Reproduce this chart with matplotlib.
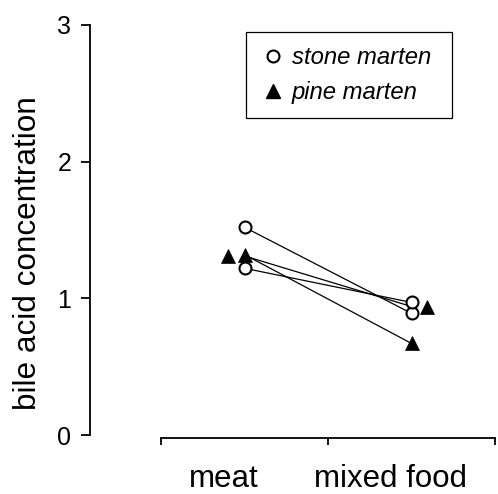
import matplotlib
matplotlib.use("Agg")
import matplotlib.pyplot as plt
from matplotlib.lines import Line2D
import matplotlib.transforms as mtransforms

plt.rcParams['font.family'] = ['Liberation Sans', 'DejaVu Sans']

categories = ["meat", "mixed food"]
stone_meat = [1.52, 1.22]
stone_mixed = [0.89, 0.97]
pine_meat = [1.32, 1.31]
pine_mixed = [0.67, 0.94]
ytick_values = [0, 1, 2, 3]
ylabel = "bile acid concentration"
legend_labels = ["stone marten", "pine marten"]

# marker x-offsets (to separate overlapping symbols), style only
pine_meat_off = [0.0, -0.096]
pine_mixed_off = [0.0, 0.09]

W, H = 498, 494
fig = plt.figure(figsize=(W / 100, H / 100), dpi=100)
ax_left, ax_right, ax_top, ax_bot = 90, 496, 25, 440
ax = fig.add_axes([ax_left / W, 1 - ax_bot / H, (ax_right - ax_left) / W, (ax_bot - ax_top) / H])

xpos = [0, 1]
x_lo = (ax_left - 161) / 167 - 0.5
x_hi = (ax_right - 161) / 167 - 0.5
ax.set_xlim(x_lo, x_hi)
y_lo = (435 - ax_bot) / 136.7
ax.set_ylim(y_lo, 3.0)

lw = 0.9
for a, b in zip(stone_meat, stone_mixed):
    ax.plot(xpos, [a, b], color='black', lw=lw, zorder=2, clip_on=False)
for a, b in zip(pine_meat, pine_mixed):
    ax.plot(xpos, [a, b], color='black', lw=lw, zorder=2, clip_on=False)

ms_c = 8.6
ms_t = 10
for a, b in zip(stone_meat, stone_mixed):
    ax.plot(xpos, [a, b], ls='none', marker='o', ms=ms_c, mfc='white', mec='black',
            mew=1.5, zorder=4, clip_on=False)
for a, b, oa, ob in zip(pine_meat, pine_mixed, pine_meat_off, pine_mixed_off):
    ax.plot([xpos[0] + oa, xpos[1] + ob], [a, b], ls='none', marker='^', ms=ms_t,
            mfc='black', mec='black', mew=0.5, zorder=3, clip_on=False)

for s in ['top', 'right']:
    ax.spines[s].set_visible(False)
ax.spines['left'].set_position(('data', x_lo))
ax.spines['left'].set_bounds(0, 3)
ax.spines['bottom'].set_position(('data', -0.02))
ax.spines['bottom'].set_bounds(-0.5, 1.5)
ax.spines['left'].set_linewidth(1.3)
ax.spines['bottom'].set_linewidth(1.3)

ax.set_yticks(ytick_values)
ax.set_yticklabels([str(v) for v in ytick_values], fontsize=18)
ax.tick_params(axis='y', direction='out', length=6.5, width=1.3, pad=7)

ax.set_xticks([-0.5, 0.5, 1.5])
ax.set_xticklabels(['', '', ''])
ax.tick_params(axis='x', which='major', direction='out', length=5, width=1.3)
ax.set_xticks(xpos, minor=True)
ax.set_xticklabels(categories, minor=True, fontsize=22.5)
ax.tick_params(axis='x', which='minor', length=0, pad=19)
shift = mtransforms.ScaledTranslation(-0.21, 0, fig.dpi_scale_trans)
for lab in ax.get_xticklabels(minor=True):
    lab.set_transform(lab.get_transform() + shift)

fig.text(28 / W, 1 - 253.5 / H, ylabel, rotation=90, ha='center', va='center', fontsize=22.7)

handles = [Line2D([], [], ls='none', marker='o', ms=ms_c, mfc='white', mec='black', mew=1.5),
           Line2D([], [], ls='none', marker='^', ms=ms_t, mfc='black', mec='black')]
leg = fig.legend(handles, legend_labels, loc='upper left', mode='expand',
                 bbox_to_anchor=(246 / W, 1 - 118 / H, 206 / W, 86 / H),
                 bbox_transform=fig.transFigure,
                 prop={'style': 'italic', 'size': 17.2}, frameon=True, fancybox=False,
                 edgecolor='black', framealpha=1, borderpad=0.586, labelspacing=0.5,
                 handlelength=1.09, handletextpad=0.25, borderaxespad=0)
leg.get_frame().set_linewidth(0.9)

fig.savefig("out.png", dpi=100)
